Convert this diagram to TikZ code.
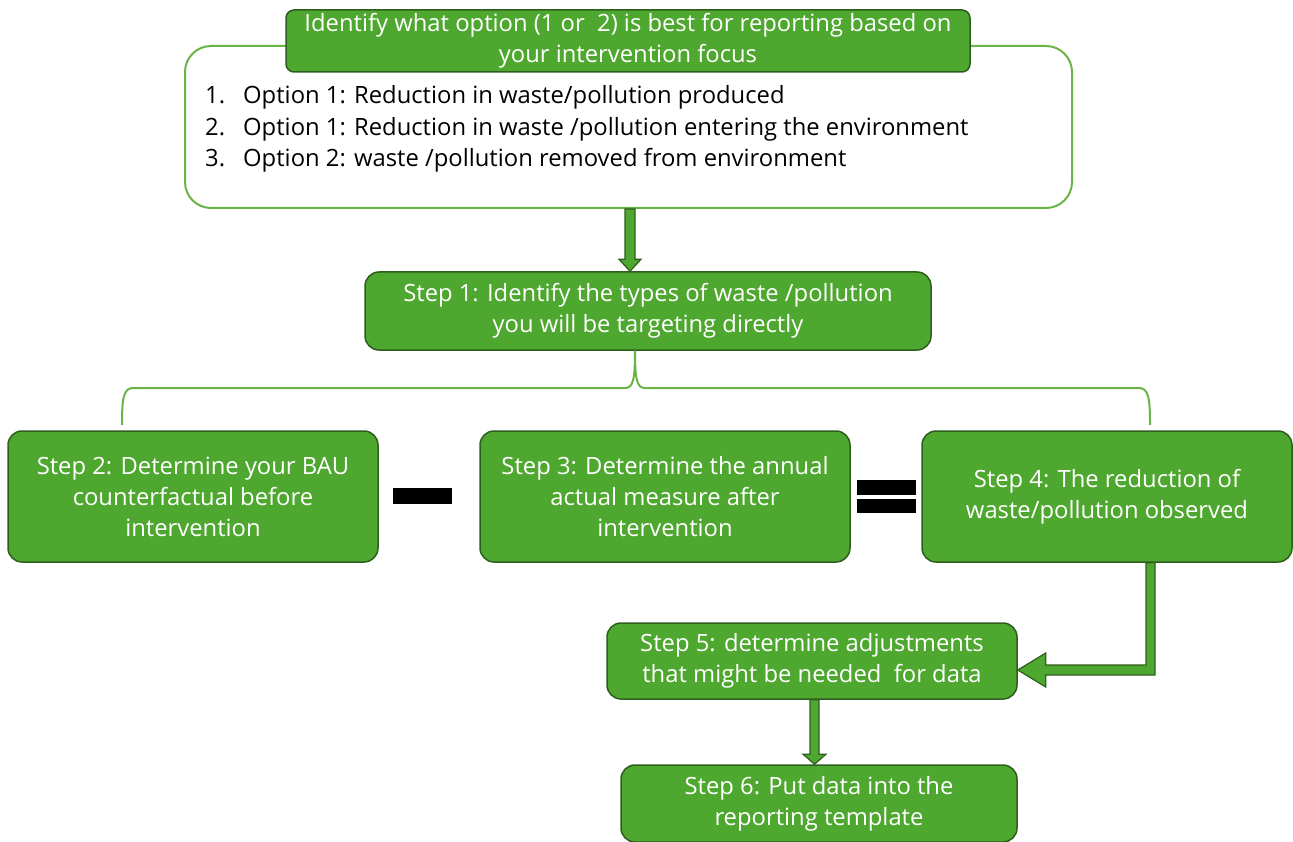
\documentclass[tikz,border=0pt]{standalone}
\usepackage{fontspec}
\setmainfont{Open Sans}
\usetikzlibrary{calc}
\definecolor{gfill}{HTML}{4EA72E}
\definecolor{gdark}{HTML}{2E5E1D}
\definecolor{gline}{HTML}{6AB447}
\tikzset{
 stepbox/.style={draw=gdark, line width=1.5pt, fill=gfill, rounded corners=14pt, text=white, align=center, font=\fontsize{23.8}{31}\selectfont, inner sep=0pt},
 listtext/.style={anchor=base west, font=\fontsize{23.8}{26}\selectfont, inner sep=0pt, text=black},
 blockarrow/.style={draw=gdark, line width=1.2pt, fill=gfill, line join=miter},
 opbar/.style={fill=black, draw=none},
 bracket/.style={draw=gline, line width=2pt}
}
\begin{document}
\begin{tikzpicture}[x=1pt,y=-1pt]
\useasboundingbox (0,0) rectangle (1293,842);
\node[draw=gline, line width=2pt, rounded corners=26pt, minimum width=887pt, minimum height=162pt, inner sep=0pt] (opts) at (628.5,127) {};
\node[stepbox, rounded corners=8pt, minimum width=684pt, minimum height=62pt] (head) at (628,41) {Identify what option (1 or\ \ 2) is best for reporting based on\\your intervention focus};
\node[listtext] (n1) at (205,104) {1.};
\node[listtext] (l1) at (243,104) {Option 1: Reduction in waste/pollution produced};
\node[listtext] (n2) at (205,136) {2.};
\node[listtext] (l2) at (243,136) {Option 1: Reduction in waste /pollution entering the environment};
\node[listtext] (n3) at (205,167) {3.};
\node[listtext] (l3) at (243,167) {Option 2: waste /pollution removed from environment};

\node[stepbox, minimum width=566pt, minimum height=78pt] (s1) at (648,311) {Step 1: Identify the types of waste /pollution\\you will be targeting directly};
\node[stepbox, minimum width=370pt, minimum height=131pt] (s2) at (193,496.5) {Step 2: Determine your BAU\\counterfactual before\\intervention};
\node[stepbox, minimum width=370pt, minimum height=131pt] (s3) at (665,496.5) {Step 3: Determine the annual\\actual measure after\\intervention};
\node[stepbox, minimum width=370pt, minimum height=131pt] (s4) at (1107,496.5) {Step 4: The reduction of\\waste/pollution observed};
\node[stepbox, minimum width=410pt, minimum height=76pt] (s5) at (812,661) {Step 5: determine adjustments\\that might be needed\ \ for data};
\node[stepbox, minimum width=396pt, minimum height=77pt] (s6) at (819,803.5) {Step 6: Put data into the\\reporting template};

% minus and equals
\fill[opbar] (393,488) rectangle (452,504);
\fill[opbar] (857,480) rectangle (916,495);
\fill[opbar] (857,499) rectangle (916,513);

% arrow 1
\coordinate (a1s) at ($(opts.south)+(1.5,0)$);
\coordinate (a1e) at (a1s |- s1.north);
\draw[blockarrow] ($(a1s)+(-5,0)$) -- ($(a1e)+(-5,-12)$) -- ($(a1e)+(-11,-12)$) -- (a1e) -- ($(a1e)+(11,-12)$) -- ($(a1e)+(5,-12)$) -- ($(a1s)+(5,0)$) -- cycle;

% bracket
\coordinate (btip) at ($(s1.south)+(-13,0)$);
\coordinate (bl) at (122,425);
\coordinate (br) at (1150,425);
\draw[bracket] (bl) .. controls (122,400) and (123,388) .. (133,388) -- (625,388) .. controls (633,388) and (635,380) .. (btip);
\draw[bracket] (btip) .. controls (635,380) and (637,388) .. (645,388) -- (1139,388) .. controls (1149,388) and (1150,400) .. (br);

% arrow 2 (elbow)
\coordinate (a2s) at ($(s4.south)+(43.5,0)$);
\coordinate (a2e) at ($(s5.east)+(0,9)$);
\coordinate (a2c) at (a2s |- a2e);
\draw[blockarrow] ($(a2s)+(-4.5,0)$) -- ($(a2c)+(-4.5,-5)$) -- ($(a2e)+(28,-5)$) -- ($(a2e)+(28,-17)$) -- (a2e) -- ($(a2e)+(28,17)$) -- ($(a2e)+(28,5)$) -- ($(a2c)+(4.5,5)$) -- ($(a2s)+(4.5,0)$) -- cycle;

% arrow 3
\coordinate (a3s) at ($(s5.south)+(2.5,0)$);
\coordinate (a3e) at (a3s |- s6.north);
\draw[blockarrow] ($(a3s)+(-4.5,0)$) -- ($(a3e)+(-4.5,-10)$) -- ($(a3e)+(-11.5,-10)$) -- (a3e) -- ($(a3e)+(11.5,-10)$) -- ($(a3e)+(4.5,-10)$) -- ($(a3s)+(4.5,0)$) -- cycle;
\end{tikzpicture}
\end{document}
